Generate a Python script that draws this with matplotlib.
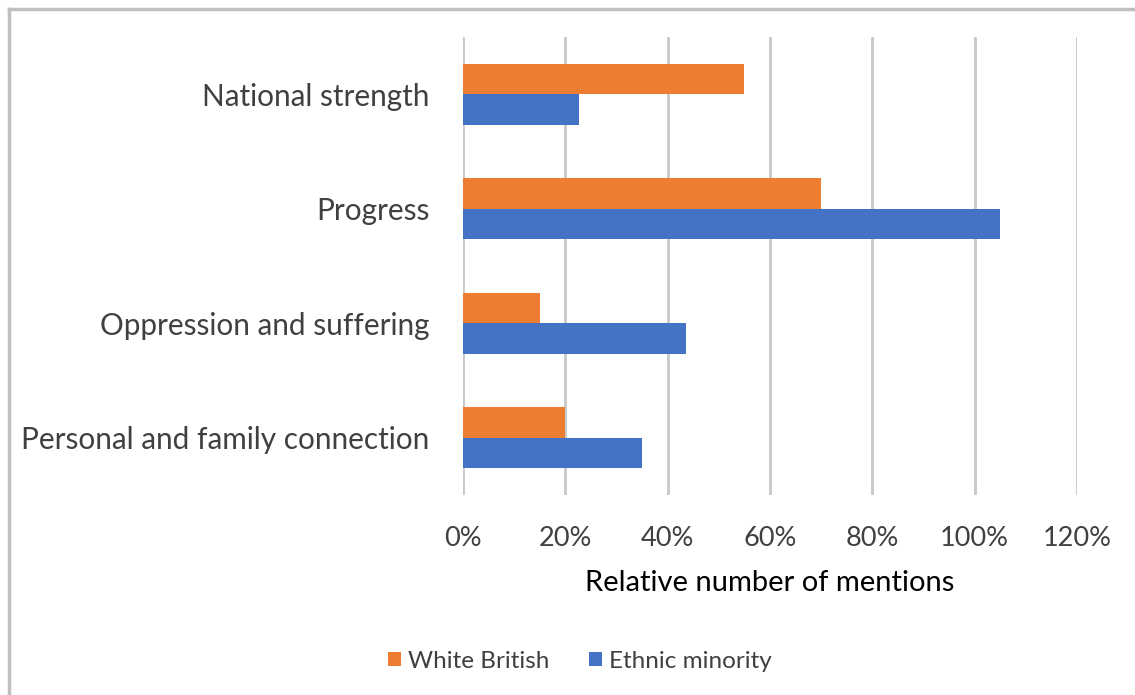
import matplotlib
matplotlib.use("Agg")
import matplotlib.pyplot as plt
from matplotlib.lines import Line2D
from matplotlib.patches import Patch
import numpy as np

categories = ["National strength", "Progress", "Oppression and suffering", "Personal and family connection"]
white_british = [55, 70, 15, 20]
ethnic_minority = [22.6, 105, 43.5, 35]
series_names = ["White British", "Ethnic minority"]
xticks = [0, 20, 40, 60, 80, 100, 120]
xtick_labels = ["0%", "20%", "40%", "60%", "80%", "100%", "120%"]

plt.rcParams['font.family'] = ['Lato', 'DejaVu Sans']
text_color = "#404040"
orange = "#ED7D31"
blue = "#4472C4"
grid_color = "#C8C8C8"

fig = plt.figure(figsize=(11.35, 6.95), dpi=100)
ax = fig.add_axes([463/1135, 1 - 495/695, (1077 - 463)/1135, (495 - 37)/695])

y = np.arange(len(categories))
h = 0.265
ax.barh(y - h/2, white_british, height=h, color=orange, zorder=3)
ax.barh(y + h/2, ethnic_minority, height=h, color=blue, zorder=3)

ax.set_ylim(len(categories) - 0.5, -0.5)
ax.set_xlim(0, 120)
ax.set_xticks(xticks)
ax.set_xticklabels(xtick_labels)
ax.set_yticks(y)
ax.set_yticklabels(categories)
ax.tick_params(axis='both', length=0, colors=text_color)
ax.tick_params(axis='x', pad=22, labelsize=19.5)
ax.tick_params(axis='y', pad=24, labelsize=21.4)
ax.xaxis.grid(True, color=grid_color, linewidth=2, zorder=0)
ax.yaxis.grid(False)
for s in ax.spines.values():
    s.set_visible(False)
ax.set_xlabel("Relative number of mentions", fontsize=21, color="black", labelpad=14)

handles = [Patch(facecolor=orange, edgecolor='none'), Patch(facecolor=blue, edgecolor='none')]
fig.legend(handles, series_names, loc='center', bbox_to_anchor=(0.511, 1 - 661/695),
           ncol=2, frameon=False, fontsize=17.5, handlelength=0.55, handleheight=0.55,
           handletextpad=0.3, columnspacing=1.6, labelcolor=text_color)

border = "#BFBFBF"
fig.add_artist(Line2D([8.5/1135, 8.5/1135], [0, 1 - 9/695], color=border, linewidth=2.5, transform=fig.transFigure))
fig.add_artist(Line2D([8.5/1135, 1], [1 - 9/695, 1 - 9/695], color=border, linewidth=2.5, transform=fig.transFigure))

fig.savefig("out.png", dpi=100)
